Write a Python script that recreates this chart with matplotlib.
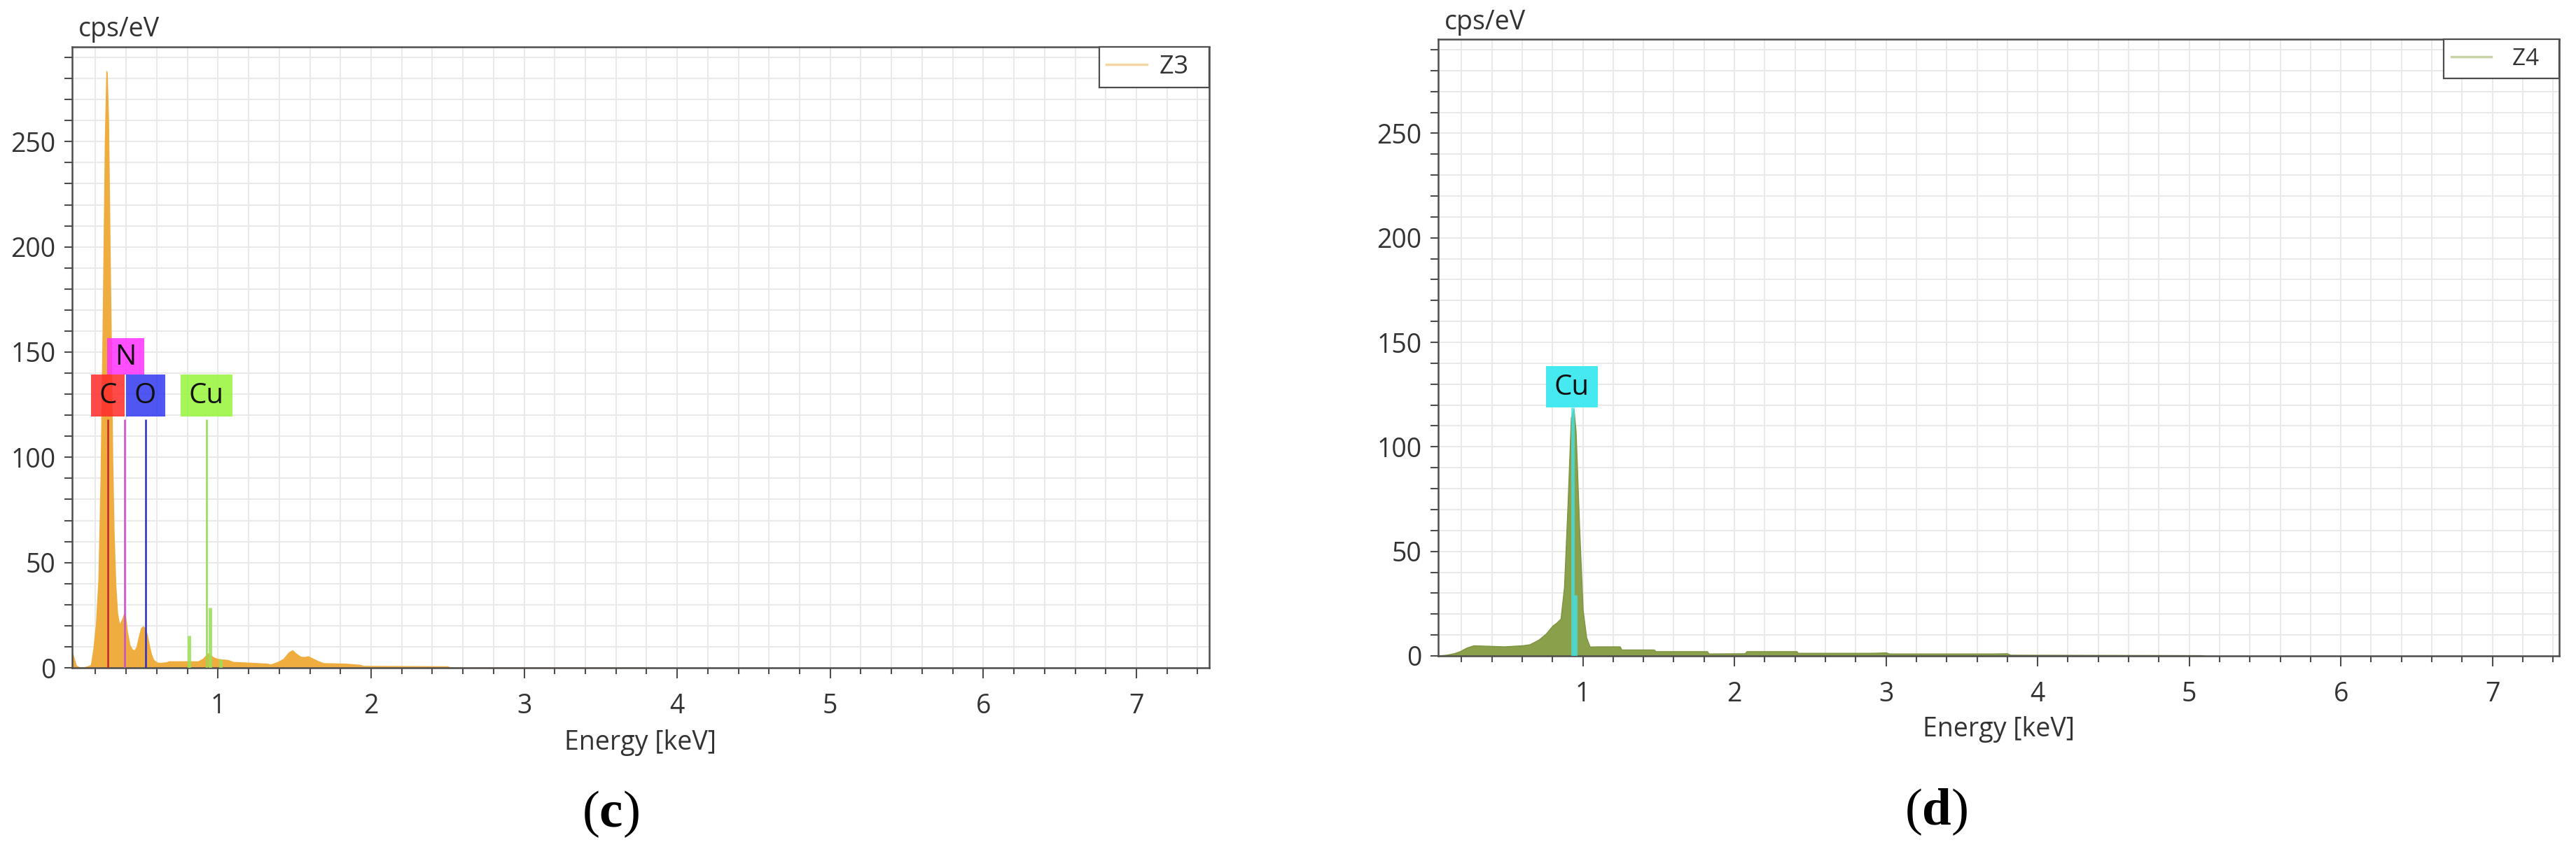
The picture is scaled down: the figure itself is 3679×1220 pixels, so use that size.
import numpy as np
import matplotlib.pyplot as plt
from matplotlib.lines import Line2D
from matplotlib.patches import Rectangle
from matplotlib.ticker import MultipleLocator

plt.rcParams['font.family'] = ['Open Sans', 'DejaVu Sans']
plt.rcParams['mathtext.fontset'] = 'custom'
plt.rcParams['mathtext.rm'] = 'Liberation Serif'
plt.rcParams['mathtext.bf'] = 'Liberation Serif:bold'

# ---- spectrum Z3, panel (c) ----
z3_energy = [0.045, 0.06, 0.075, 0.10, 0.13, 0.15, 0.167, 0.183, 0.20, 0.216, 0.23,
             0.245, 0.258, 0.268, 0.277, 0.286, 0.296, 0.305, 0.313, 0.322, 0.333,
             0.345, 0.357, 0.37, 0.385, 0.398, 0.41, 0.425, 0.44, 0.453, 0.465,
             0.48, 0.495, 0.51, 0.525, 0.54, 0.555, 0.567, 0.58, 0.60, 0.62, 0.66,
             0.68, 0.87, 0.90, 0.935, 0.95, 0.975, 1.0, 1.065, 1.10, 1.32, 1.345,
             1.39, 1.425, 1.46, 1.487, 1.51, 1.54, 1.565, 1.588, 1.62, 1.66, 1.69,
             1.83, 1.93, 1.95, 2.50, 2.52, 3.84, 3.86]
z3_counts = [8.5, 5.0, 1.2, 0.3, 0.6, 1.0, 1.5, 9.0, 21, 42, 90,
             170, 250, 284, 283, 260, 200, 150, 100, 65, 40,
             26, 21, 23, 26, 24, 17, 11, 9.0, 8.5, 10,
             15, 19, 20, 19, 15.5, 10, 6.5, 4.0, 2.8, 2.5, 2.8,
             3.3, 3.3, 4.5, 7.2, 6.3, 5.0, 4.4, 3.9, 3.0, 2.2, 1.8,
             3.0, 4.4, 7.5, 8.6, 7.0, 5.5, 5.3, 5.7, 4.6, 3.2, 2.4,
             2.2, 1.6, 1.1, 0.9, 0.4, 0.3, 0.0]

# element markers in (c)
c_elements = ['C', 'N', 'O', 'Cu']
c_line_energy = [0.281, 0.392, 0.525, 0.925]
c_line_height = [118, 118, 118, 118]
c_cu_extra_energy = [0.811, 0.947, 1.016]
c_cu_extra_height = [15.3, 28.6, 4.0]

# ---- spectrum Z4, panel (d) ----
z4_energy = [0.054, 0.10, 0.15, 0.19, 0.233, 0.28, 0.48, 0.60, 0.65, 0.71, 0.757,
             0.80, 0.826, 0.854, 0.877, 0.90, 0.922, 0.94, 0.954, 0.977, 1.0,
             1.023, 1.046, 1.10, 1.245, 1.255, 1.47, 1.48, 1.82, 1.83, 2.07, 2.08,
             2.41, 2.42, 2.90, 3.0, 3.02, 3.70, 3.80, 3.82, 5.08, 5.10]
z4_counts = [0.2, 0.5, 1.2, 2.2, 3.9, 5.0, 4.5, 5.0, 5.5, 7.8, 10.6,
             14.4, 15.8, 17.8, 33, 72, 114, 118, 107, 61, 22,
             8.9, 4.4, 4.5, 4.5, 3.0, 3.0, 2.2, 2.2, 1.1, 1.2, 2.2,
             2.2, 1.4, 1.4, 1.6, 1.1, 1.1, 1.2, 0.5, 0.3, 0.0]

d_elements = ['Cu']
d_line_energy = [0.932]
d_line_height = [119]
d_cu_extra_energy = [0.950]
d_cu_extra_height = [29]

x_ticks = [1, 2, 3, 4, 5, 6, 7]
y_ticks = [0, 50, 100, 150, 200, 250]

fig = plt.figure(figsize=(36.8, 12.2), dpi=100)
ax_c = fig.add_axes([0.0280, 0.2180, 0.4413, 0.7271])
ax_d = fig.add_axes([0.5582, 0.2320, 0.4350, 0.7221])

spine_col = '#4d4d4d'
text_col = '#333333'


def style_axes(ax, xmax):
    ax.set_xlim(0.047, xmax)
    ax.set_ylim(0, 295)
    ax.xaxis.set_major_locator(MultipleLocator(1))
    ax.xaxis.set_minor_locator(MultipleLocator(0.2))
    ax.yaxis.set_major_locator(MultipleLocator(50))
    ax.yaxis.set_minor_locator(MultipleLocator(10))
    ax.set_xticks(x_ticks)
    ax.set_yticks(y_ticks)
    ax.grid(True, which='both', color='#e9e9e9', lw=1.4)
    ax.set_axisbelow(True)
    for s in ax.spines.values():
        s.set_color(spine_col)
        s.set_linewidth(1.8)
    ax.tick_params(axis='x', which='major', length=11, width=1.5, pad=15,
                   labelsize=27, colors=spine_col, labelcolor=text_col)
    ax.tick_params(axis='x', which='minor', length=6.5, width=1.5, colors=spine_col)
    ax.tick_params(axis='y', which='both', length=8, width=1.5, pad=9,
                   labelsize=27, colors=spine_col, labelcolor=text_col)


def draw_box(ax, x0, x1, y0, y1, color, label, alpha=0.85):
    ax.add_patch(Rectangle((x0, y0), x1 - x0, y1 - y0, facecolor=color,
                           edgecolor='none', alpha=alpha, zorder=5))
    ax.text((x0 + x1) / 2, (y0 + y1) / 2 - 0.5, label, ha='center', va='center',
            fontsize=29, color='#111111', zorder=6)


# panel (c)
style_axes(ax_c, 7.476)
ax_c.fill_between(z3_energy, z3_counts, color='#efad3f', lw=0, zorder=2)
c_line_cols = ['#c0282a', '#c850c8', '#2b2bc8', '#92dc52']
for e, h, col in zip(c_line_energy, c_line_height, c_line_cols):
    ax_c.vlines(e, 0, h, color=col, lw=1.8, zorder=4)
ax_c.vlines(c_cu_extra_energy, 0, c_cu_extra_height, color='#9ce05a', lw=3.5,
            alpha=0.9, zorder=4)
c_box_cols = ['#ff2a2a', '#ff30ff', '#3038f0', '#98f53a']
c_box_half = [0.11, 0.123, 0.128, 0.168]
c_box_y = [(119.5, 139.5), (139.5, 156.5), (119.5, 139.5), (119.5, 139.5)]
order = [1, 0, 2, 3]
for i in order:
    e = c_line_energy[i] + (0.005 if i == 1 else 0)
    draw_box(ax_c, e - c_box_half[i], e + c_box_half[i], c_box_y[i][0], c_box_y[i][1],
             c_box_cols[i], c_elements[i])
leg = ax_c.legend(handles=[Line2D([], [], color='#f3d7a0', lw=2.5)], labels=['Z3  '],
                  loc='upper right', borderaxespad=0, fancybox=False,
                  edgecolor=spine_col, framealpha=1, fontsize=26, handlelength=1.6,
                  handletextpad=0.5, borderpad=0.3, labelcolor=text_col)
leg.get_frame().set_linewidth(1.6)

# panel (d)
style_axes(ax_d, 7.44)
ax_d.fill_between(z4_energy, z4_counts, facecolor='#8aa04a', edgecolor='#7d9440',
                  lw=1.0, zorder=2)
ax_d.vlines(d_line_energy, 0, d_line_height, color='#45e0e6', lw=3.5, alpha=0.8, zorder=4)
ax_d.vlines(d_cu_extra_energy, 0, d_cu_extra_height, color='#45e0e6', lw=3.5,
            alpha=0.8, zorder=4)
draw_box(ax_d, 0.757, 1.100, 119, 138.5, '#3de8f0', d_elements[0], alpha=0.95)
leg = ax_d.legend(handles=[Line2D([], [], color='#c8d4a8', lw=2.5)], labels=['Z4  '],
                  loc='upper right', borderaxespad=0, fancybox=False,
                  edgecolor=spine_col, framealpha=1, fontsize=24, handlelength=1.7,
                  handletextpad=0.9, borderpad=0.35, labelcolor=text_col)
leg.get_frame().set_linewidth(1.6)

# axis titles
fig.text(0.0304, 0.9656, 'cps/eV', ha='left', va='center', fontsize=27, color=text_col)
fig.text(0.5606, 0.9738, 'cps/eV', ha='left', va='center', fontsize=27, color=text_col)
fig.text(0.2486, 0.1303, 'Energy [keV]', ha='center', va='center', fontsize=27, color=text_col)
fig.text(0.7757, 0.1459, 'Energy [keV]', ha='center', va='center', fontsize=27, color=text_col)

# panel letters
fig.text(0.2370, 0.0475, r'$\mathrm{(}\mathbf{c}\mathrm{)}$', ha='center', va='center',
         fontsize=54, color='black')
fig.text(0.7515, 0.0500, r'$\mathrm{(}\mathbf{d}\mathrm{)}$', ha='center', va='center',
         fontsize=54, color='black')

fig.savefig('out.png', dpi=100, facecolor='white')
